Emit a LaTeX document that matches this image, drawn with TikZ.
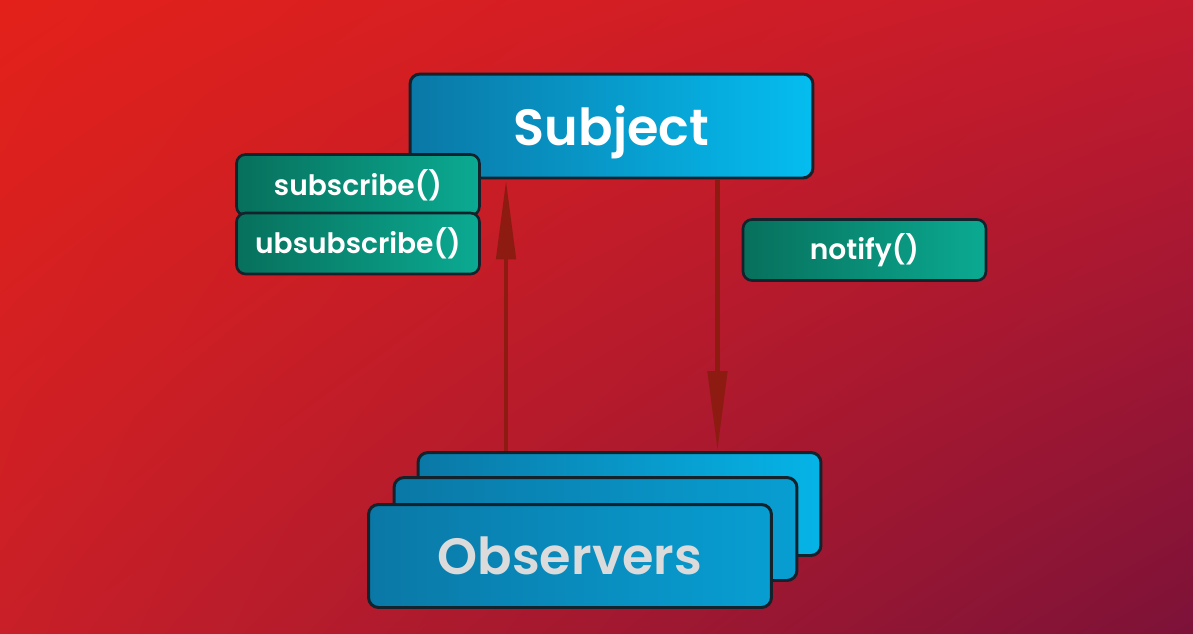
\documentclass[tikz,border=0pt]{standalone}
\usepackage{fontspec}
\setmainfont{Poppins}[BoldFont={Poppins SemiBold}]
\usetikzlibrary{arrows.meta,shadings}

\definecolor{bgTL}{HTML}{E3211A}
\definecolor{bgTR}{HTML}{C41B2E}
\definecolor{bgBL}{HTML}{C81F28}
\definecolor{bgBR}{HTML}{7C1238}
\definecolor{boxline}{HTML}{14222B}
\definecolor{blueL}{HTML}{0A78A6}
\definecolor{blueR}{HTML}{05BDF0}
\definecolor{obsR}{HTML}{089ED2}
\definecolor{greenL}{HTML}{07705C}
\definecolor{greenR}{HTML}{0BAA92}
\definecolor{flowred}{HTML}{8E1B12}

\tikzset{
	classbox/.style={draw=boxline, line width=1.7pt, rounded corners=0.2cm,
		left color=blueL, right color=blueR, inner sep=0pt,
		minimum width=8.06cm, minimum height=2.06cm, text=white,
		font=\fontsize{29}{32}\selectfont\bfseries},
	methodbox/.style={draw=boxline, line width=1.5pt, rounded corners=0.18cm,
		left color=greenL, right color=greenR, inner sep=0pt,
		minimum width=4.86cm, minimum height=1.22cm, text=white,
		font=\fontsize{16}{19}\selectfont\bfseries},
	flow/.style={draw=flowred, line width=2.8pt,
		-{Triangle[length=1.6cm, width=0.38cm]}}
}

\begin{document}
\begin{tikzpicture}[x=0.02cm, y=-0.02cm]
	% background
	\shade[upper left=bgTL, upper right=bgTR, lower left=bgBL, lower right=bgBR]
		(0,0) rectangle (1193,633);
	\useasboundingbox (0,0) rectangle (1193,633);

	% subject and its methods
	\node[classbox, minimum height=2.08cm, text depth=0pt] (subject) at (611.5,126) {Subject};
	\node[methodbox] (subscribe) at (358,185) {subscribe()};
	\node[methodbox] (unsubscribe) at (358,243.5) {ubsubscribe()};
	\node[methodbox] (notify) at (864.5,250) {notify()};

	% stack of observers
	\node[classbox, right color=blueR!70!obsR] (obsback) at (619.5,504) {};
	\node[classbox, right color=obsR] (obsmid) at (595.5,529) {};
	\node[classbox, right color=obsR, text=white!86!black] (observers) at (570,556) {Observers};

	% connectors
	\draw[flow] ([xshift=1.95cm]subject.south west |- obsback.north)
		-- ([xshift=1.95cm]subject.south west);
	\draw[flow] ([xshift=-1.94cm]subject.south east)
		-- ([xshift=-1.94cm]subject.south east |- obsback.north);
\end{tikzpicture}
\end{document}
